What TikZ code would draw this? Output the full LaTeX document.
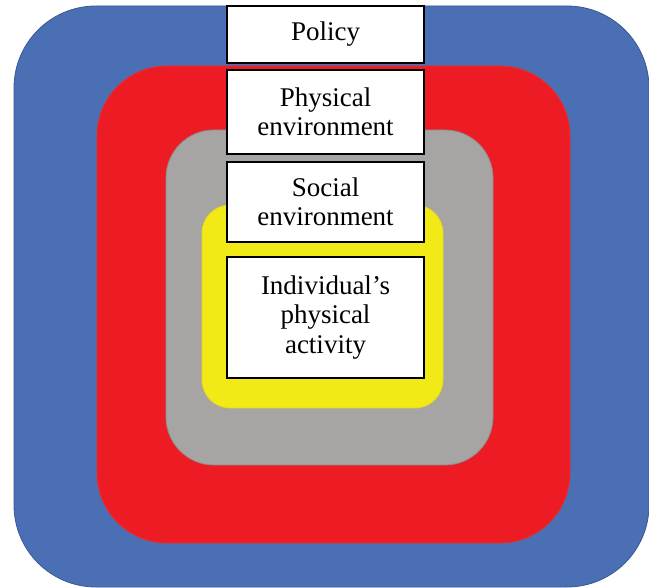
\documentclass[tikz,border=0pt]{standalone}
\usepackage{fontspec}
\setmainfont{Liberation Serif}
\definecolor{cblue}{HTML}{4A6FB5}
\definecolor{cred}{HTML}{ED1C24}
\definecolor{cgray}{HTML}{A6A5A4}
\definecolor{cyellow}{HTML}{F2EA17}
\begin{document}
\begin{tikzpicture}[x=1pt,y=-1pt,
  ring/.style={line width=0.8pt},
  label/.style={draw=black,line width=1.3pt,fill=white,align=center,
    font=\fontsize{27}{29.5}\selectfont,inner sep=0pt}]
\useasboundingbox (0,0) rectangle (649,588);
\fill[white] (0,0) rectangle (649,588);
\filldraw[ring,fill=cblue,draw=cblue!80!black,rounded corners=82pt] (14,6) rectangle (649,587);
\filldraw[ring,fill=cred,draw=cred!80!brown,rounded corners=70pt] (97,66) rectangle (570,543);
\filldraw[ring,fill=cgray,draw=cgray!85!black,rounded corners=48pt] (166,130) rectangle (493,465);
\filldraw[ring,fill=cyellow,draw=cyellow!80!brown,rounded corners=28pt] (202,205) rectangle (443,408);
\node[label,minimum width=197pt,minimum height=57pt] (policy) at (325.5,34.5) {Policy};
\node[label,minimum width=197pt,minimum height=84pt] (phys) at (325.5,112) {Physical\\environment};
\node[label,minimum width=197pt,minimum height=80pt] (soc) at (325.5,202) {Social\\environment};
\node[label,minimum width=197pt,minimum height=121pt] (ind) at (325.5,317.5) {Individual’s\\physical\\activity};
\end{tikzpicture}
\end{document}
